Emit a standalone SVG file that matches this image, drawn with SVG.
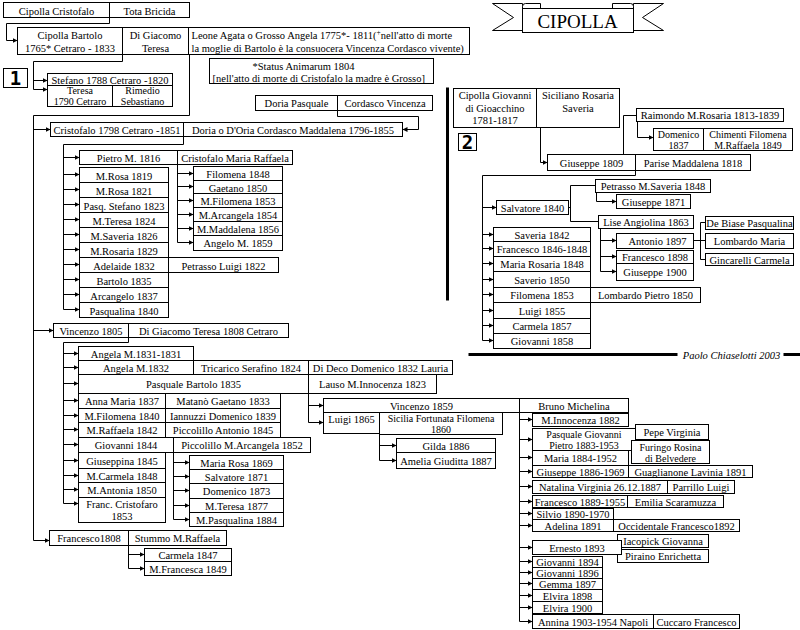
<svg xmlns="http://www.w3.org/2000/svg" width="800" height="630" viewBox="0 0 800 630">
<style>
.b{fill:#fff;stroke:#000;stroke-width:1}
.c{fill:none;stroke:#000;stroke-width:1}
.a{fill:none;stroke:#000;stroke-width:1;marker-end:url(#ah)}
.k{fill:none;stroke:#000;stroke-width:3}
text{font-family:"Liberation Serif","Times New Roman",serif;font-size:10.5px;fill:#000;text-anchor:middle}
.l{text-anchor:start}
.m{font-size:10px}
.n{font-family:"DejaVu Sans Mono","Liberation Mono",monospace;font-size:19px;font-weight:bold}
.s{font-style:italic;font-size:10.5px}
.ttl{font-size:19px}
</style>
<defs>
<marker id="ah" markerUnits="userSpaceOnUse" markerWidth="6" markerHeight="6" refX="5" refY="3" orient="auto"><path d="M0,0.5 L5,3 L0,5.5 z" fill="#000"/></marker>
</defs>
<rect width="800" height="630" fill="#fff"/>
<g transform="translate(.5,.5)">
<g id="decor">
<path class="k" d="M447,87 V300"/>
<path class="k" d="M468,354 H677 M783,354 H800"/>
<text class="s" x="731" y="358">Paolo Chiaselotti 2003</text>
</g>
<g id="title">
<polygon class="b" points="522,3 492,3 513,17 492,30 522,30"/>
<polygon class="b" points="633,3 663,3 642,17 663,30 633,30"/>
<path class="b" d="M522,8 V6 Q522,3 525,3 H540 V8 Z"/>
<path class="b" d="M612,8 V3 H630 Q633,3 633,6 V8 Z"/>
<rect class="b" x="522" y="8" width="111" height="24"/>
<text class="ttl" x="577" y="27">CIPOLLA</text>
</g>
<g id="connectors">
<path class="a" d="M109,17 V23 H6 V40 H17"/>
<path class="a" d="M122,54 V61 H33 V89 H47"/>
<path class="a" d="M33,80 H47"/>
<path class="a" d="M189,54 V115 H33 V540 H49"/>
<path class="a" d="M33,129 H50"/>
<path class="a" d="M33,330 H53"/>
<path class="a" d="M337,110 V116 H418 V129 H402"/>
<path class="a" d="M183,136 V144 H63 V309 H79"/>
<path class="a" d="M63,157 H79"/><path class="a" d="M63,174 H79"/><path class="a" d="M63,189 H79"/><path class="a" d="M63,204 H79"/><path class="a" d="M63,219 H79"/><path class="a" d="M63,234 H79"/><path class="a" d="M63,249 H79"/><path class="a" d="M63,264 H79"/><path class="a" d="M63,279 H79"/><path class="a" d="M63,294 H79"/>
<path class="a" d="M177,164 V242 H193"/>
<path class="a" d="M177,173 H193"/><path class="a" d="M177,186 H193"/><path class="a" d="M177,200 H193"/><path class="a" d="M177,214 H193"/><path class="a" d="M177,228 H193"/>
<path class="a" d="M128,337 V342 H63 V503 H78"/>
<path class="a" d="M63,353 H78"/><path class="a" d="M63,367 H78"/><path class="a" d="M63,383 H78"/><path class="a" d="M63,400 H78"/><path class="a" d="M63,415 H78"/><path class="a" d="M63,429 H78"/><path class="a" d="M63,444 H78"/><path class="a" d="M63,460 H78"/><path class="a" d="M63,475 H78"/><path class="a" d="M63,489 H78"/>
<path class="a" d="M173,452 V519 H189"/>
<path class="a" d="M173,462 H189"/><path class="a" d="M173,476 H189"/><path class="a" d="M173,490 H189"/><path class="a" d="M173,505 H189"/>
<path class="a" d="M128,545 V568 H144"/>
<path class="a" d="M128,554 H144"/>
<path class="a" d="M308,393 V422 H323"/>
<path class="a" d="M308,405 H323"/>
<path class="a" d="M379,433 V460 H396"/>
<path class="a" d="M379,445 H396"/>
<path class="a" d="M519,412 V621 H532"/>
<path class="a" d="M519,419 H532"/><path class="a" d="M519,439 H532"/><path class="a" d="M519,457 H532"/><path class="a" d="M519,471 H532"/><path class="a" d="M519,486 H532"/><path class="a" d="M519,501 H532"/><path class="a" d="M519,513 H532"/><path class="a" d="M519,525 H532"/><path class="a" d="M519,547 H532"/><path class="a" d="M519,561 H532"/><path class="a" d="M519,572 H532"/><path class="a" d="M519,583 H532"/><path class="a" d="M519,595 H532"/><path class="a" d="M519,607 H532"/>
<path class="a" d="M540,127 V162 H547"/>
<path class="c" d="M623,154 V115 H636"/>
<path class="a" d="M637,121 V137 H653"/>
<path class="a" d="M635,170 V175 H482 V340 H493"/>
<path class="a" d="M482,207 H496"/>
<path class="a" d="M482,234 H493"/><path class="a" d="M482,248 H493"/><path class="a" d="M482,263 H493"/><path class="a" d="M482,279 H493"/><path class="a" d="M482,294 H493"/><path class="a" d="M482,310 H493"/><path class="a" d="M482,325 H493"/>
<path class="c" d="M568,207 H570 M595,185 H570 V221 H598"/>
<path class="a" d="M596,192 V201 H616"/>
<path class="a" d="M600,228 V271 H616"/>
<path class="a" d="M600,240 H616"/><path class="a" d="M600,256 H616"/>
<path class="c" d="M693,240 H700 M705,222 H700 V259 H705 M700,240 H705"/>
</g>

<g id="n-cipolla-cristofalo"><rect class="b" x="3" y="2" width="106" height="15"/><text x="56" y="14">Cipolla Cristofalo</text></g>
<g id="n-tota-bricida"><rect class="b" x="109" y="2" width="80" height="15"/><text x="149" y="14">Tota Bricida</text></g>
<g id="n-cipolla-bartolo"><rect class="b" x="17" y="27" width="105" height="27"/><text x="69.5" y="38.5">Cipolla Bartolo</text><text x="69.5" y="51">1765* Cetraro - 1833</text></g>
<g id="n-di-giacomo-teresa"><rect class="b" x="122" y="27" width="66" height="27"/><text x="155" y="38.5" font-size="11.5">Di Giacomo</text><text x="155" y="51.5" font-size="11.5">Teresa</text></g>
<g id="n-leone-agata"><rect class="b" x="188" y="27" width="281" height="27"/><text class="l" x="191" y="38.5" font-size="10.8">Leone Agata o Grosso Angela 1775*- 1811(<tspan font-size="7.5" dy="-4">+</tspan><tspan dy="4">nell'atto di morte</tspan></text><text class="l" x="191" y="51" font-size="10.8">la moglie di Bartolo è la consuocera Vincenza Cordasco vivente)</text></g>
<g id="n-label-1"><rect class="b" x="3" y="68" width="24" height="19"/><text class="n" x="15" y="84">1</text></g>
<g id="n-stefano-1788"><rect class="b" x="47" y="73" width="125" height="12"/><text x="109.5" y="83">Stefano 1788 Cetraro -1820</text></g>
<g id="n-teresa-1790"><rect class="b" x="47" y="85" width="65" height="21"/><text class="m" x="79.5" y="93.5">Teresa</text><text class="m" x="79.5" y="104.8">1790 Cetraro</text></g>
<g id="n-rimedio"><rect class="b" x="112" y="85" width="60" height="21"/><text class="m" x="142" y="93.5">Rimedio</text><text class="m" x="142" y="104.8">Sebastiano</text></g>
<g id="n-status"><rect class="b" x="209" y="58" width="224" height="25"/><text class="l" x="252" y="69">*Status Animarum 1804</text><text class="l" x="212" y="81">[nell'atto di morte di Cristofalo la madre è Grosso]</text></g>
<g id="n-doria-pasquale"><rect class="b" x="255" y="95" width="82" height="15"/><text x="296" y="106">Doria Pasquale</text></g>
<g id="n-cordasco-vincenza"><rect class="b" x="337" y="95" width="95" height="15"/><text x="384.5" y="106">Cordasco Vincenza</text></g>
<g id="n-cristofalo-1798"><rect class="b" x="50" y="122" width="133" height="14"/><text x="116.5" y="133">Cristofalo 1798 Cetraro -1851</text></g>
<g id="n-doria-maddalena"><rect class="b" x="183" y="122" width="219" height="14"/><text x="292.5" y="133" font-size="11">Doria o D'Oria Cordasco Maddalena 1796-1855</text></g>
<g id="n-pietro-1816"><rect class="b" x="79" y="150" width="98" height="14"/><text x="128" y="161">Pietro M. 1816</text></g>
<g id="n-cristofalo-maria-raffaela"><rect class="b" x="177" y="150" width="115" height="14"/><text x="234.5" y="161">Cristofalo Maria Raffaela</text></g>
<g id="n-mrosa-1819"><rect class="b" x="79" y="167" width="89" height="15"/><text x="123.5" y="179">M.Rosa 1819</text></g>
<g id="n-mrosa-1821"><rect class="b" x="79" y="182" width="89" height="15"/><text x="123.5" y="194">M.Rosa 1821</text></g>
<g id="n-pasq-stefano"><rect class="b" x="79" y="197" width="89" height="15"/><text x="123.5" y="209">Pasq. Stefano 1823</text></g>
<g id="n-mteresa-1824"><rect class="b" x="79" y="212" width="89" height="15"/><text x="123.5" y="224">M.Teresa 1824</text></g>
<g id="n-msaveria-1826"><rect class="b" x="79" y="227" width="89" height="15"/><text x="123.5" y="239">M.Saveria 1826</text></g>
<g id="n-mrosaria-1829"><rect class="b" x="79" y="242" width="89" height="15"/><text x="123.5" y="254">M.Rosaria 1829</text></g>
<g id="n-adelaide-1832"><rect class="b" x="79" y="257" width="89" height="15"/><text x="123.5" y="269">Adelaide 1832</text></g>
<g id="n-bartolo-1835"><rect class="b" x="79" y="272" width="89" height="15"/><text x="123.5" y="284">Bartolo 1835</text></g>
<g id="n-arcangelo-1837"><rect class="b" x="79" y="287" width="89" height="15"/><text x="123.5" y="299">Arcangelo 1837</text></g>
<g id="n-pasqualina-1840"><rect class="b" x="79" y="302" width="89" height="15"/><text x="123.5" y="314">Pasqualina 1840</text></g>
<g id="n-petrasso-luigi"><rect class="b" x="168" y="257" width="110" height="15"/><text x="223" y="269">Petrasso Luigi 1822</text></g>
<g id="n-filomena-1848"><rect class="b" x="193" y="166" width="89" height="14"/><text x="237.5" y="177">Filomena 1848</text></g>
<g id="n-gaetano-1850"><rect class="b" x="193" y="180" width="89" height="13"/><text x="237.5" y="191">Gaetano 1850</text></g>
<g id="n-mfilomena-1853"><rect class="b" x="193" y="193" width="89" height="14"/><text x="237.5" y="204">M.Filomena 1853</text></g>
<g id="n-marcangela-1854"><rect class="b" x="193" y="207" width="89" height="14"/><text x="237.5" y="218">M.Arcangela 1854</text></g>
<g id="n-mmaddalena-1856"><rect class="b" x="193" y="221" width="89" height="14"/><text x="237.5" y="232">M.Maddalena 1856</text></g>
<g id="n-angelo-1859"><rect class="b" x="193" y="235" width="89" height="15"/><text x="237.5" y="246">Angelo M. 1859</text></g>
<g id="n-vincenzo-1805"><rect class="b" x="53" y="323" width="75" height="14"/><text x="90.5" y="334">Vincenzo 1805</text></g>
<g id="n-di-giacomo-1808"><rect class="b" x="128" y="323" width="160" height="14"/><text x="208" y="334">Di Giacomo Teresa 1808 Cetraro</text></g>
<g id="n-angela-1831"><rect class="b" x="78" y="346" width="115" height="14"/><text x="135.5" y="357">Angela M.1831-1831</text></g>
<g id="n-angela-1832"><rect class="b" x="78" y="360" width="115" height="14"/><text x="135.5" y="371">Angela M.1832</text></g>
<g id="n-tricarico"><rect class="b" x="193" y="360" width="115" height="14"/><text x="250.5" y="371">Tricarico Serafino 1824</text></g>
<g id="n-di-deco"><rect class="b" x="308" y="360" width="144" height="14"/><text x="380" y="371">Di Deco Domenico 1832 Lauria</text></g>
<g id="n-pasquale-1835"><rect class="b" x="78" y="374" width="230" height="19"/><text x="193" y="387">Pasquale Bartolo 1835</text></g>
<g id="n-lauso"><rect class="b" x="308" y="374" width="128" height="19"/><text x="372" y="387">Lauso M.Innocenza 1823</text></g>
<g id="n-anna-maria-1837"><rect class="b" x="78" y="393" width="87" height="15"/><text x="121.5" y="404">Anna Maria 1837</text></g>
<g id="n-matano"><rect class="b" x="165" y="393" width="115" height="15"/><text x="222.5" y="404">Matanò Gaetano 1833</text></g>
<g id="n-mfilomena-1840"><rect class="b" x="78" y="408" width="87" height="14"/><text x="121.5" y="419">M.Filomena 1840</text></g>
<g id="n-iannuzzi"><rect class="b" x="165" y="408" width="115" height="14"/><text x="222.5" y="419">Iannuzzi Domenico 1839</text></g>
<g id="n-mraffaela-1842"><rect class="b" x="78" y="422" width="87" height="15"/><text x="121.5" y="433">M.Raffaela 1842</text></g>
<g id="n-piccolillo-antonio"><rect class="b" x="165" y="422" width="115" height="15"/><text x="222.5" y="433">Piccolillo Antonio 1845</text></g>
<g id="n-giovanni-1844"><rect class="b" x="78" y="437" width="95" height="15"/><text x="125.5" y="448">Giovanni 1844</text></g>
<g id="n-piccolillo-arcangela"><rect class="b" x="173" y="437" width="137" height="15"/><text x="241.5" y="448">Piccolillo M.Arcangela 1852</text></g>
<g id="n-giuseppina-1845"><rect class="b" x="78" y="452" width="87" height="16"/><text x="121.5" y="464">Giuseppina 1845</text></g>
<g id="n-mcarmela-1848"><rect class="b" x="78" y="468" width="87" height="14"/><text x="121.5" y="479">M.Carmela 1848</text></g>
<g id="n-mantonia-1850"><rect class="b" x="78" y="482" width="87" height="15"/><text x="121.5" y="493">M.Antonia 1850</text></g>
<g id="n-franc-cristofaro"><rect class="b" x="78" y="497" width="87" height="25"/><text x="121.5" y="507">Franc. Cristofaro</text><text x="121.5" y="519">1853</text></g>
<g id="n-maria-rosa-1869"><rect class="b" x="189" y="455" width="94" height="14"/><text x="236" y="466">Maria Rosa 1869</text></g>
<g id="n-salvatore-1871"><rect class="b" x="189" y="469" width="94" height="14"/><text x="236" y="480">Salvatore 1871</text></g>
<g id="n-domenico-1873"><rect class="b" x="189" y="483" width="94" height="15"/><text x="236" y="494">Domenico 1873</text></g>
<g id="n-mteresa-1877"><rect class="b" x="189" y="498" width="94" height="14"/><text x="236" y="509">M.Teresa 1877</text></g>
<g id="n-mpasqualina-1884"><rect class="b" x="189" y="512" width="94" height="14"/><text x="236" y="523">M.Pasqualina 1884</text></g>
<g id="n-francesco-1808"><rect class="b" x="49" y="530" width="79" height="15"/><text x="88.5" y="541">Francesco1808</text></g>
<g id="n-stummo"><rect class="b" x="128" y="530" width="98" height="15"/><text x="177" y="541">Stummo M.Raffaela</text></g>
<g id="n-carmela-1847"><rect class="b" x="144" y="548" width="87" height="13"/><text x="187.5" y="558">Carmela 1847</text></g>
<g id="n-mfrancesca-1849"><rect class="b" x="144" y="561" width="87" height="14"/><text x="187.5" y="572">M.Francesca 1849</text></g>
<g id="n-vincenzo-1859"><rect class="b" x="323" y="398" width="196" height="14"/><text x="421" y="409">Vincenzo 1859</text></g>
<g id="n-bruno-michelina"><rect class="b" x="519" y="398" width="109" height="14"/><text x="573.5" y="409">Bruno Michelina</text></g>
<g id="n-luigi-1865"><rect class="b" x="323" y="412" width="56" height="21"/><text x="351" y="422">Luigi 1865</text></g>
<g id="n-sicilia"><rect class="b" x="379" y="412" width="123" height="22"/><text class="m" x="440.5" y="421">Sicilia Fortunata Filomena</text><text class="m" x="440.5" y="432.2">1860</text></g>
<g id="n-gilda-1886"><rect class="b" x="396" y="438" width="99" height="14"/><text x="445.5" y="449">Gilda 1886</text></g>
<g id="n-amelia-1887"><rect class="b" x="396" y="452" width="99" height="16"/><text x="445.5" y="464">Amelia Giuditta 1887</text></g>
<g id="n-minnocenza-1882"><rect class="b" x="532" y="413" width="96" height="13"/><text x="580" y="423">M.Innocenza 1882</text></g>
<g id="n-pasquale-1883"><rect class="b" x="532" y="428" width="103" height="22"/><text class="m" x="583.5" y="437">Pasquale Giovanni</text><text class="m" x="583.5" y="448.2">Pietro 1883-1953</text></g>
<g id="n-pepe-virginia"><rect class="b" x="635" y="424" width="73" height="15"/><text x="671.5" y="435" font-size="11.5">Pepe Virginia</text></g>
<g id="n-furingo"><rect class="b" x="631" y="440" width="78" height="23"/><text class="m" x="670" y="450">Furingo Rosina</text><text class="m" x="670" y="461.2">di Belvedere</text></g>
<g id="n-maria-1884"><rect class="b" x="532" y="450" width="96" height="15"/><text x="580" y="461">Maria 1884-1952</text></g>
<g id="n-giuseppe-1886"><rect class="b" x="532" y="465" width="96" height="12"/><text x="580" y="475">Giuseppe 1886-1969</text></g>
<g id="n-guaglianone"><rect class="b" x="628" y="465" width="124" height="12"/><text x="690" y="475">Guaglianone Lavinia 1891</text></g>
<g id="n-natalina-1887"><rect class="b" x="532" y="480" width="135" height="13"/><text x="599.5" y="490">Natalina Virginia 26.12.1887</text></g>
<g id="n-parrillo"><rect class="b" x="667" y="480" width="67" height="13"/><text x="700.5" y="490">Parrillo Luigi</text></g>
<g id="n-francesco-1889"><rect class="b" x="532" y="495" width="95" height="12"/><text x="579.5" y="505">Francesco 1889-1955</text></g>
<g id="n-emilia"><rect class="b" x="627" y="495" width="96" height="12"/><text x="675" y="505">Emilia Scaramuzza</text></g>
<g id="n-silvio-1890"><rect class="b" x="532" y="508" width="81" height="11"/><text x="572.5" y="517">Silvio 1890-1970</text></g>
<g id="n-adelina-1891"><rect class="b" x="532" y="519" width="81" height="12"/><text x="572.5" y="529">Adelina 1891</text></g>
<g id="n-occidentale"><rect class="b" x="613" y="519" width="126" height="12"/><text x="676" y="529">Occidentale Francesco1892</text></g>
<g id="n-iacopick"><rect class="b" x="617" y="534" width="91" height="13"/><text x="662.5" y="544">Iacopick Giovanna</text></g>
<g id="n-piraino"><rect class="b" x="617" y="549" width="91" height="13"/><text x="662.5" y="559">Piraino Enrichetta</text></g>
<g id="n-ernesto-1893"><rect class="b" x="532" y="540" width="89" height="14"/><text x="576.5" y="551">Ernesto 1893</text></g>
<g id="n-giovanni-1894"><rect class="b" x="532" y="556" width="70" height="11"/><text x="567" y="565">Giovanni 1894</text></g>
<g id="n-giovanni-1896"><rect class="b" x="532" y="567" width="70" height="11"/><text x="567" y="576">Giovanni 1896</text></g>
<g id="n-gemma-1897"><rect class="b" x="532" y="578" width="70" height="11"/><text x="567" y="587">Gemma 1897</text></g>
<g id="n-elvira-1898"><rect class="b" x="532" y="589" width="70" height="12"/><text x="567" y="599">Elvira 1898</text></g>
<g id="n-elvira-1900"><rect class="b" x="532" y="601" width="70" height="12"/><text x="567" y="611">Elvira 1900</text></g>
<g id="n-annina-1903"><rect class="b" x="532" y="614" width="121" height="14"/><text x="592.5" y="625">Annina 1903-1954 Napoli</text></g>
<g id="n-cuccaro"><rect class="b" x="653" y="614" width="86" height="14"/><text x="696" y="625">Cuccaro Francesco</text></g>

<g id="n-cipolla-giovanni"><rect class="b" x="453" y="88" width="83" height="39"/><text x="494.5" y="98.5">Cipolla Giovanni</text><text x="494.5" y="111">di Gioacchino</text><text x="494.5" y="123.5">1781-1817</text></g>
<g id="n-siciliano"><rect class="b" x="536" y="88" width="83" height="39"/><text x="577.5" y="98.5">Siciliano Rosaria</text><text x="577.5" y="111">Saveria</text></g>
<g id="n-label-2"><rect class="b" x="458" y="133" width="18" height="17"/><text class="n" x="467" y="148">2</text></g>
<g id="n-raimondo"><rect class="b" x="636" y="108" width="147" height="13"/><text x="709.5" y="118">Raimondo M.Rosaria 1813-1839</text></g>
<g id="n-domenico-1837"><rect class="b" x="653" y="128" width="50" height="22"/><text class="m" x="678" y="137">Domenico</text><text class="m" x="678" y="148.2">1837</text></g>
<g id="n-chimenti"><rect class="b" x="703" y="128" width="89" height="22"/><text class="m" x="747.5" y="137">Chimenti Filomena</text><text class="m" x="747.5" y="148.2">M.Raffaela 1849</text></g>
<g id="n-giuseppe-1809"><rect class="b" x="547" y="154" width="88" height="16"/><text x="591" y="166">Giuseppe 1809</text></g>
<g id="n-parise"><rect class="b" x="635" y="154" width="115" height="16"/><text x="692.5" y="166">Parise Maddalena 1818</text></g>
<g id="n-salvatore-1840"><rect class="b" x="496" y="200" width="72" height="14"/><text x="532" y="211">Salvatore 1840</text></g>
<g id="n-petrasso-saveria"><rect class="b" x="595" y="179" width="115" height="13"/><text x="652.5" y="189">Petrasso M.Saveria 1848</text></g>
<g id="n-giuseppe-1871"><rect class="b" x="616" y="194" width="74" height="14"/><text x="653" y="205">Giuseppe 1871</text></g>
<g id="n-lise"><rect class="b" x="598" y="215" width="95" height="13"/><text x="645.5" y="225">Lise Angiolina 1863</text></g>
<g id="n-antonio-1897"><rect class="b" x="616" y="233" width="77" height="15"/><text x="657" y="244">Antonio 1897</text></g>
<g id="n-francesco-1898"><rect class="b" x="616" y="250" width="77" height="13"/><text x="654.5" y="260">Francesco 1898</text></g>
<g id="n-giuseppe-1900"><rect class="b" x="616" y="263" width="77" height="17"/><text x="654.5" y="275">Giuseppe 1900</text></g>
<g id="n-de-biase"><rect class="b" x="705" y="216" width="88" height="13"/><text x="749" y="226">De Biase Pasqualina</text></g>
<g id="n-lombardo-maria"><rect class="b" x="705" y="233" width="88" height="15"/><text x="749" y="244">Lombardo Maria</text></g>
<g id="n-gincarelli"><rect class="b" x="705" y="253" width="88" height="12"/><text x="749" y="263">Gincarelli Carmela</text></g>
<g id="n-saveria-1842"><rect class="b" x="493" y="227" width="97" height="14"/><text x="541.5" y="238">Saveria 1842</text></g>
<g id="n-francesco-1846"><rect class="b" x="493" y="241" width="97" height="15"/><text x="541.5" y="252">Francesco 1846-1848</text></g>
<g id="n-maria-rosaria-1848"><rect class="b" x="493" y="256" width="97" height="15"/><text x="541.5" y="267">Maria Rosaria 1848</text></g>
<g id="n-saverio-1850"><rect class="b" x="493" y="271" width="97" height="16"/><text x="541.5" y="283">Saverio 1850</text></g>
<g id="n-filomena-1853"><rect class="b" x="493" y="287" width="97" height="15"/><text x="541.5" y="298">Filomena 1853</text></g>
<g id="n-luigi-1855"><rect class="b" x="493" y="302" width="97" height="16"/><text x="541.5" y="314">Luigi 1855</text></g>
<g id="n-carmela-1857"><rect class="b" x="493" y="318" width="97" height="15"/><text x="541.5" y="329">Carmela 1857</text></g>
<g id="n-giovanni-1858"><rect class="b" x="493" y="333" width="97" height="15"/><text x="541.5" y="344">Giovanni 1858</text></g>
<g id="n-lombardo-pietro"><rect class="b" x="590" y="287" width="110" height="15"/><text x="645" y="298">Lombardo Pietro 1850</text></g>
</g>
</svg>
